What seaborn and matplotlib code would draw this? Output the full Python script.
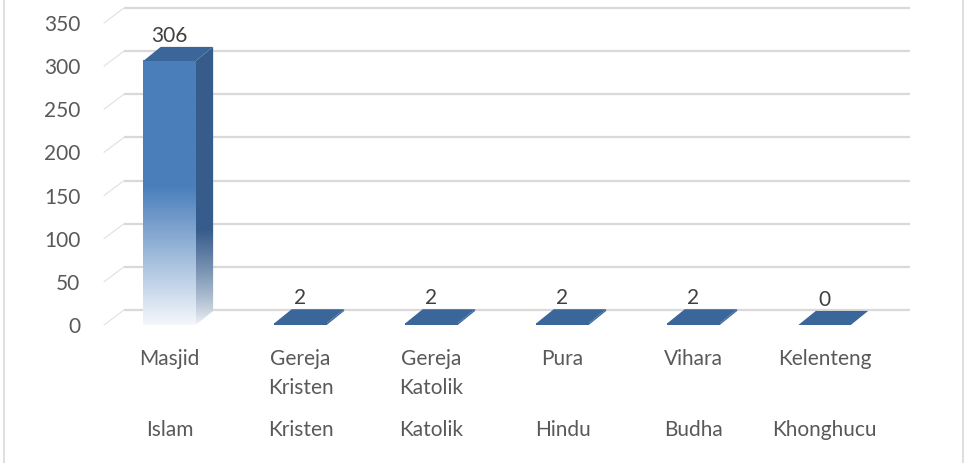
import numpy as np
import pandas as pd
import seaborn as sns
import matplotlib.pyplot as plt
from matplotlib.patches import Polygon
from matplotlib.lines import Line2D
import matplotlib.transforms as mtrans
from matplotlib.colors import to_rgb

# ---- data ----
categories = ["Masjid", "Gereja\nKristen", "Gereja\nKatolik", "Pura", "Vihara", "Kelenteng"]
religions = ["Islam", "Kristen", "Katolik", "Hindu", "Budha", "Khonghucu"]
values = [306, 2, 2, 2, 2, 0]
yticks = [0, 50, 100, 150, 200, 250, 300, 350]

sns.set_theme(style="white")
plt.rcParams['font.family'] = ['Lato', 'DejaVu Sans']

fig = plt.figure(figsize=(9.65, 4.63), dpi=100)
ax = fig.add_axes([0.10777, 0.29806, 0.8352, 0.6877])

df = pd.DataFrame({"cat": categories, "val": values})
sns.barplot(data=df, x="cat", y="val", width=0.4, color="#3b6699", ax=ax,
            saturation=1, zorder=3, edgecolor='none', linewidth=0)

WX, WY = 0.152, 17.4   # wall depth
BX, BY = 0.133, 16.3   # bar depth
XL = (-0.5, 5.5)
ax.set_xlim(XL[0], XL[1] + WX)
ax.set_ylim(0, 369)

grid_c = '#d9d9d9'
for v in yticks:
    ax.plot([XL[0] + WX, XL[1] + WX], [v + WY, v + WY], color=grid_c, lw=1.6,
            zorder=1, solid_capstyle='butt', clip_on=False)
    ax.plot([XL[0], XL[0] + WX], [v, v + WY], color='#e0e0e0', lw=0.8,
            zorder=1, clip_on=False)


def ramp(base, h, full_at, n=256, tmin=0.06, power=1.0):
    ys = np.linspace(0, h, n)
    t = np.clip(ys / full_at, 0, 1) ** power
    t = tmin + (1 - tmin) * t
    b = np.array(to_rgb(base))
    w = np.array([1.0, 1.0, 1.0])
    cols = w[None, :] * (1 - t[:, None]) + b[None, :] * t[:, None]
    return cols[:, None, :]


front_c = '#4a7ebb'
side_c = '#365c8c'
top_c = '#3b6699'
flat_c = '#3b6699'

for bar, v in zip(ax.patches, values):
    x0, w, h = bar.get_x(), bar.get_width(), bar.get_height()
    top = Polygon([(x0, h), (x0 + w, h), (x0 + w + BX, h + BY), (x0 + BX, h + BY)],
                  closed=True, facecolor=top_c if h > 20 else flat_c,
                  edgecolor='none', zorder=4)
    side = Polygon([(x0 + w, 0), (x0 + w + BX, BY), (x0 + w + BX, h + BY), (x0 + w, h)],
                   closed=True, facecolor=side_c, edgecolor='none', zorder=3)
    if h > 20:
        bar.set_facecolor('none')
        ax.imshow(ramp(front_c, h, 160), extent=[x0, x0 + w, 0, h], origin='lower',
                  aspect='auto', zorder=3, interpolation='bilinear')
        side.set_facecolor('none')
        ax.add_patch(side)
        im = ax.imshow(ramp(side_c, h + BY, 110, power=0.8),
                       extent=[x0 + w, x0 + w + BX, 0, h + BY],
                       origin='lower', aspect='auto', zorder=3, interpolation='bilinear')
        im.set_clip_path(side)
    else:
        bar.set_facecolor(flat_c)
        side.set_facecolor(flat_c)
        ax.add_patch(side)
    ax.add_patch(top)

ax.set_xlim(XL[0], XL[1] + WX)
ax.set_ylim(0, 369)

# value labels
for i, v in enumerate(values):
    ax.text(i, v + BY + 1.0, f"{v}", ha='center', va='bottom', fontsize=15,
            color='#404040', zorder=6)

# religion labels
trans = mtrans.blended_transform_factory(ax.transData, ax.transAxes)
for i, r in enumerate(religions):
    ax.text(i, -0.33, r, transform=trans, ha='center', va='center', fontsize=15,
            color='#595959')

ax.set_yticks(yticks)
ax.set_yticklabels([str(t) for t in yticks])
ax.set_xlabel('')
ax.set_ylabel('')
for s in ax.spines.values():
    s.set_visible(False)
ax.tick_params(axis='both', length=0, labelsize=15, labelcolor='#595959')
ax.tick_params(axis='y', pad=17)
ax.tick_params(axis='x', pad=17.5)
for lbl in ax.get_xticklabels():
    lbl.set_linespacing(1.55)

# chart frame
for xf in (4 / 965, 963 / 965):
    fig.add_artist(Line2D([xf, xf], [0, 1], transform=fig.transFigure,
                          color='#d9d9d9', lw=1.2))

fig.savefig('out.png', dpi=100)
